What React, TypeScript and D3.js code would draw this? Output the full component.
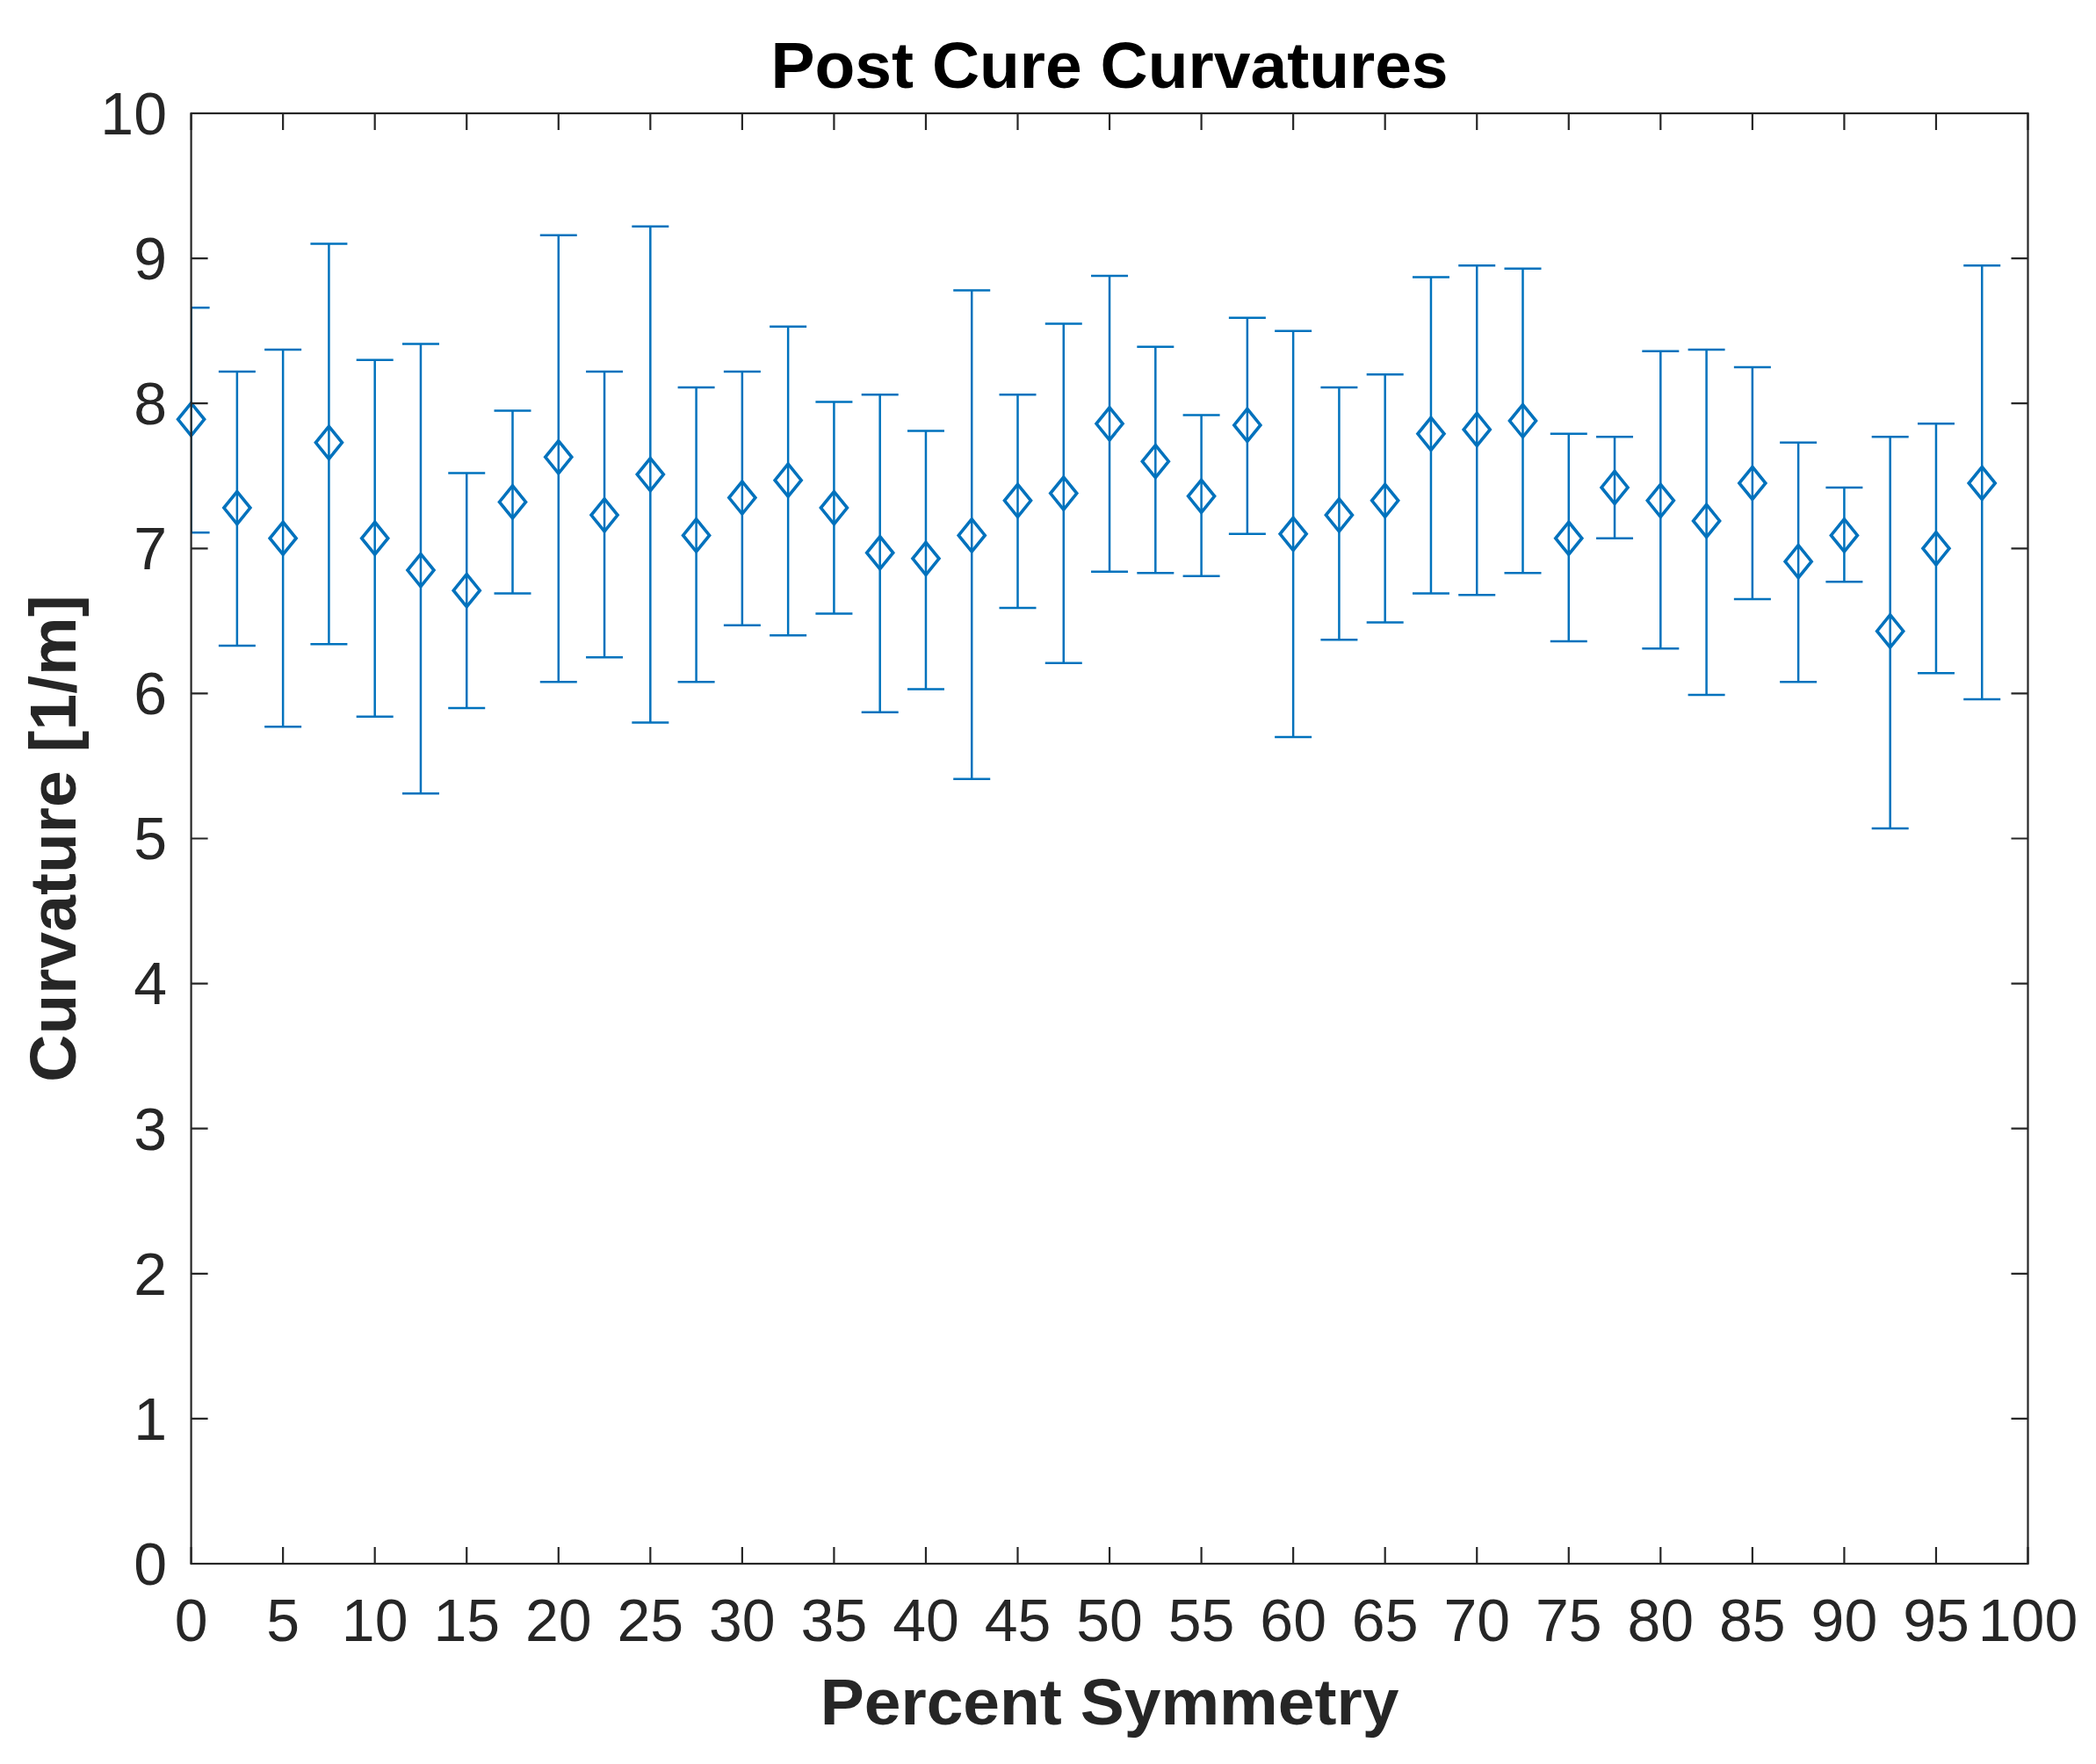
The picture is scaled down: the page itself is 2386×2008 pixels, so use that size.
import React, { useEffect, useRef } from "react";
import * as d3 from "d3";

// percent symmetry (x) and measured curvatures
const symmetry = [
  0, 2.5, 5, 7.5, 10, 12.5, 15, 17.5, 20, 22.5, 25, 27.5, 30, 32.5, 35, 37.5, 40, 42.5, 45, 47.5,
  50, 52.5, 55, 57.5, 60, 62.5, 65, 67.5, 70, 72.5, 75, 77.5, 80, 82.5, 85, 87.5, 90, 92.5, 95, 97.5,
];
const meanCurv = [
  7.89, 7.28, 7.07, 7.73, 7.07, 6.85, 6.71, 7.32, 7.63, 7.23, 7.51, 7.09, 7.35, 7.47, 7.28, 6.97, 6.93, 7.09, 7.33, 7.38,
  7.86, 7.6, 7.36, 7.85, 7.1, 7.23, 7.33, 7.79, 7.82, 7.88, 7.07, 7.42, 7.33, 7.19, 7.45, 6.91, 7.09, 6.43, 7.0, 7.45,
];
const upperCurv = [
  8.66, 8.22, 8.37, 9.1, 8.3, 8.41, 7.52, 7.95, 9.16, 8.22, 9.22, 8.11, 8.22, 8.53, 8.01, 8.06, 7.81, 8.78, 8.06, 8.55,
  8.88, 8.39, 7.92, 8.59, 8.5, 8.11, 8.2, 8.87, 8.95, 8.93, 7.79, 7.77, 8.36, 8.37, 8.25, 7.73, 7.42, 7.77, 7.86, 8.95,
];
const lowerCurv = [
  7.11, 6.33, 5.77, 6.34, 5.84, 5.31, 5.9, 6.69, 6.08, 6.25, 5.8, 6.08, 6.47, 6.4, 6.55, 5.87, 6.03, 5.41, 6.59, 6.21,
  6.84, 6.83, 6.81, 7.1, 5.7, 6.37, 6.49, 6.69, 6.68, 6.83, 6.36, 7.07, 6.31, 5.99, 6.65, 6.08, 6.77, 5.07, 6.14, 5.96,
];
const xTicks = [0, 5, 10, 15, 20, 25, 30, 35, 40, 45, 50, 55, 60, 65, 70, 75, 80, 85, 90, 95, 100];
const yTicks = [0, 1, 2, 3, 4, 5, 6, 7, 8, 9, 10];

const W = 2386;
const H = 2008;
const margin = { left: 217.6, right: 2308.5, top: 129, bottom: 1780 };
const blue = "#0072BD";
const axisColor = "#262626";
const font = "'Liberation Sans', Arial, Helvetica, sans-serif";

const App: React.FC = () => {
  const ref = useRef<SVGSVGElement | null>(null);

  useEffect(() => {
    if (!ref.current) return;
    const svg = d3.select(ref.current);
    svg.selectAll("*").remove();

    const x = d3.scaleLinear().domain([0, 100]).range([margin.left, margin.right]);
    const y = d3.scaleLinear().domain([0, 10]).range([margin.bottom, margin.top]);

    const rows = symmetry.map((s, i) => ({ s, m: meanCurv[i], lo: lowerCurv[i], hi: upperCurv[i] }));

    svg.append("rect").attr("width", W).attr("height", H).attr("fill", "#fff");

    svg.append("clipPath").attr("id", "plot-clip")
      .append("rect")
      .attr("x", margin.left).attr("y", margin.top)
      .attr("width", margin.right - margin.left).attr("height", margin.bottom - margin.top);

    // error bars (clipped to the axes like matlab)
    const cap = 21;
    const bars = svg.append("g")
      .attr("clip-path", "url(#plot-clip)")
      .attr("stroke", blue).attr("stroke-width", 2.5).attr("fill", "none");
    bars.selectAll("path")
      .data(rows)
      .join("path")
      .attr("d", d => {
        const cx = x(d.s), t = y(d.hi), b = y(d.lo);
        return `M${cx},${t}V${b}M${cx - cap},${t}H${cx + cap}M${cx - cap},${b}H${cx + cap}`;
      });

    // diamond markers
    const hw = 15, hh = 18.5;
    svg.append("g")
      .attr("stroke", blue).attr("stroke-width", 3.6).attr("fill", "none")
      .selectAll("path")
      .data(rows)
      .join("path")
      .attr("d", d => {
        const cx = x(d.s), cy = y(d.m);
        return `M${cx},${cy - hh}L${cx + hw},${cy}L${cx},${cy + hh}L${cx - hw},${cy}Z`;
      });

    // box + ticks
    const axes = svg.append("g").attr("stroke", axisColor).attr("stroke-width", 2.2).attr("fill", "none");
    axes.append("rect")
      .attr("x", margin.left).attr("y", margin.top)
      .attr("width", margin.right - margin.left).attr("height", margin.bottom - margin.top);
    const tl = 19;
    axes.selectAll("path.xt")
      .data(xTicks)
      .join("path")
      .attr("class", "xt")
      .attr("d", d => `M${x(d)},${margin.bottom}v${-tl}M${x(d)},${margin.top}v${tl}`);
    axes.selectAll("path.yt")
      .data(yTicks)
      .join("path")
      .attr("class", "yt")
      .attr("d", d => `M${margin.left},${y(d)}h${tl}M${margin.right},${y(d)}h${-tl}`);

    // tick labels
    const labels = svg.append("g")
      .attr("font-family", font).attr("font-size", 68).attr("fill", axisColor);
    labels.selectAll("text.xl")
      .data(xTicks)
      .join("text")
      .attr("class", "xl")
      .attr("x", d => x(d))
      .attr("y", 1868)
      .attr("text-anchor", "middle")
      .text(d => d);
    labels.selectAll("text.yl")
      .data(yTicks)
      .join("text")
      .attr("class", "yl")
      .attr("x", 190)
      .attr("y", d => y(d))
      .attr("dy", "0.35em")
      .attr("text-anchor", "end")
      .text(d => d);

    // title and axis labels
    const mid = (margin.left + margin.right) / 2;
    svg.append("text")
      .attr("x", mid).attr("y", 100)
      .attr("text-anchor", "middle")
      .attr("font-family", font).attr("font-size", 75).attr("font-weight", "bold")
      .attr("fill", "#000")
      .text("Post Cure Curvatures");
    svg.append("text")
      .attr("x", mid).attr("y", 1963)
      .attr("text-anchor", "middle")
      .attr("font-family", font).attr("font-size", 75).attr("font-weight", "bold")
      .attr("fill", axisColor)
      .text("Percent Symmetry");
    svg.append("text")
      .attr("transform", `translate(86,${(margin.top + margin.bottom) / 2}) rotate(-90)`)
      .attr("text-anchor", "middle")
      .attr("font-family", font).attr("font-size", 75).attr("font-weight", "bold")
      .attr("fill", axisColor)
      .text("Curvature [1/m]");
  }, []);

  return (
    <svg
      ref={ref}
      width={W}
      height={H}
      style={{ position: "absolute", left: 0, top: 0, display: "block" }}
    />
  );
};

export default App;
